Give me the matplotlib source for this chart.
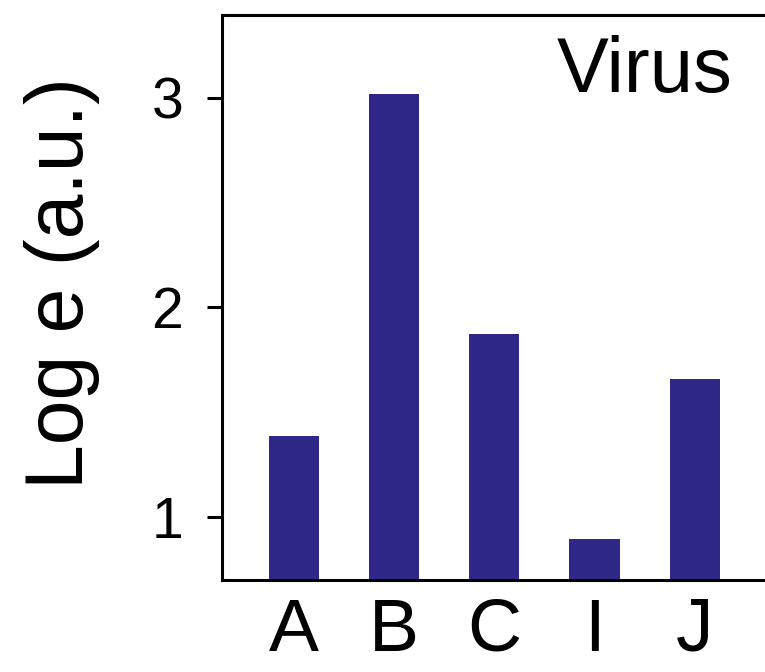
import matplotlib
matplotlib.use("Agg")
import matplotlib.pyplot as plt

categories = ["A", "B", "C", "I", "J"]
values = [1.385, 3.02, 1.87, 0.894, 1.658]
yticks = [1, 2, 3]
ytick_labels = ["1", "2", "3"]
bar_color = "#2F2888"

plt.rcParams["font.family"] = ["Liberation Sans", "DejaVu Sans"]

fig = plt.figure(figsize=(7.65, 6.72), dpi=100)
ax = fig.add_axes([222 / 765, 92 / 672, 1 - 222 / 765, (580 - 15) / 672])

x = list(range(len(categories)))
ax.bar(x, values, width=0.5, color=bar_color, zorder=2)

ax.set_xlim(-0.716, 4.70)
ax.set_ylim(0.698, 3.395)
ax.set_xticks(x)
ax.set_xticklabels(categories, fontsize=54)
ax.set_yticks(yticks)
ax.set_yticklabels(ytick_labels, fontsize=41)
ax.tick_params(axis="x", length=0, pad=12)
ax.tick_params(axis="y", length=11, width=2.2, pad=17, direction="out")

for s in ["left", "bottom", "top"]:
    ax.spines[s].set_linewidth(2.2)
ax.spines["right"].set_visible(False)

ax.set_ylabel("Log e (a.u.)", fontsize=58)
ax.yaxis.set_label_coords(-0.2247, 0.526)

fig.text(732 / 765, (672 - 92) / 672, "Virus", fontsize=56, ha="right", va="baseline")

fig.savefig("out.png", dpi=100)
